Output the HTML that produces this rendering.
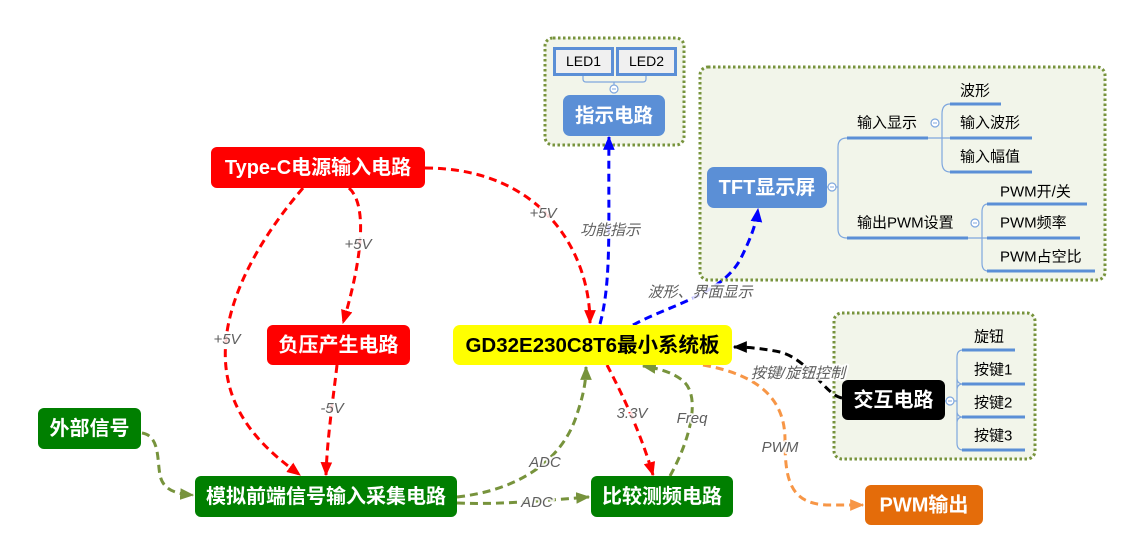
<!DOCTYPE html>
<html><head><meta charset="utf-8"><style>
html,body{margin:0;padding:0;background:#fff;}
svg{display:block;}
.nt{font-family:"Liberation Sans","Noto Sans CJK SC",sans-serif;font-weight:bold;font-size:20px;fill:#fff;}
.st{font-family:"Liberation Sans","Noto Sans CJK SC",sans-serif;font-size:15px;fill:#000;}
.ld{font-family:"Liberation Sans","Noto Sans CJK SC",sans-serif;font-size:14px;fill:#000;}
.lb{font-family:"Liberation Sans","Noto Sans CJK SC",sans-serif;font-size:15px;font-style:italic;fill:#5f5f5f;stroke:rgba(255,255,255,0.85);stroke-width:4px;paint-order:stroke;stroke-linejoin:round;}
.cn{fill:none;stroke-width:3;stroke-dasharray:8 5;}
.ul{stroke:#5b8fd6;stroke-width:3;fill:none;}
.tl{stroke:#7fa7de;stroke-width:1.2;fill:none;}
</style></head><body>
<svg width="1139" height="553" viewBox="0 0 1139 553" xmlns="http://www.w3.org/2000/svg">
<defs>
<marker id="aR" viewBox="0 0 12 10" refX="11" refY="5" markerWidth="14" markerHeight="12" markerUnits="userSpaceOnUse" orient="auto"><path d="M0,0 L12,5 L0,10 z" fill="#ff0000"/></marker>
<marker id="aB" viewBox="0 0 12 10" refX="11" refY="5" markerWidth="14" markerHeight="12" markerUnits="userSpaceOnUse" orient="auto"><path d="M0,0 L12,5 L0,10 z" fill="#0000ff"/></marker>
<marker id="aG" viewBox="0 0 12 10" refX="11" refY="5" markerWidth="14" markerHeight="12" markerUnits="userSpaceOnUse" orient="auto"><path d="M0,0 L12,5 L0,10 z" fill="#77933c"/></marker>
<marker id="aK" viewBox="0 0 12 10" refX="11" refY="5" markerWidth="14" markerHeight="12" markerUnits="userSpaceOnUse" orient="auto"><path d="M0,0 L12,5 L0,10 z" fill="#000"/></marker>
<marker id="aO" viewBox="0 0 12 10" refX="11" refY="5" markerWidth="14" markerHeight="12" markerUnits="userSpaceOnUse" orient="auto"><path d="M0,0 L12,5 L0,10 z" fill="#f79646"/></marker>
</defs>

<!-- group boxes -->
<rect x="545" y="38" width="139" height="107" rx="8" fill="#f2f5ea" stroke="#77933c" stroke-width="3" stroke-dasharray="2.5 2.5"/>
<rect x="700" y="67" width="405" height="213" rx="8" fill="#f2f5ea" stroke="#77933c" stroke-width="3" stroke-dasharray="2.5 2.5"/>
<rect x="834" y="313" width="201" height="146" rx="8" fill="#f2f5ea" stroke="#77933c" stroke-width="3" stroke-dasharray="2.5 2.5"/>

<!-- LED group -->
<rect x="554.5" y="48.5" width="58" height="26" fill="#f0f0f0" stroke="#5b8fd6" stroke-width="3"/>
<rect x="617.5" y="48.5" width="58" height="26" fill="#f0f0f0" stroke="#5b8fd6" stroke-width="3"/>
<text class="ld" x="583.5" y="66" text-anchor="middle">LED1</text>
<text class="ld" x="646.5" y="66" text-anchor="middle">LED2</text>
<path class="tl" d="M583,76 L583,79 Q583,82 586,82 L643,82 Q646,82 646,79 L646,76 M614,82 L614,85"/>
<circle cx="614" cy="89" r="4" fill="#fff" stroke="#7fa7de" stroke-width="1.2"/>
<line x1="612" y1="89" x2="616" y2="89" stroke="#7fa7de" stroke-width="1"/>
<rect x="563" y="95" width="102" height="41" rx="7" fill="#5b8fd6"/>
<text class="nt" x="614" y="116" text-anchor="middle" dominant-baseline="central" style="font-size:19.5px">指示电路</text>

<!-- TFT group -->
<rect x="707" y="167" width="120" height="41" rx="7" fill="#5b8fd6"/>
<text class="nt" x="767" y="188" text-anchor="middle" dominant-baseline="central">TFT显示屏</text>
<line x1="827" y1="187" x2="838" y2="187" class="tl"/>
<circle cx="832" cy="187" r="4" fill="#fff" stroke="#7fa7de" stroke-width="1.2"/>
<line x1="830" y1="187" x2="834" y2="187" stroke="#7fa7de" stroke-width="1"/>
<path class="tl" d="M847,138 Q838,138 838,147 L838,229 Q838,238 847,238"/>
<path class="ul" d="M847,138 L928,138"/>
<path class="ul" d="M847,238 L968,238"/>
<text class="st" x="857" y="123" dominant-baseline="central">输入显示</text>
<text class="st" x="857" y="223" dominant-baseline="central">输出PWM设置</text>
<line x1="928" y1="138" x2="950" y2="138" class="tl"/>
<circle cx="935" cy="123" r="4" fill="#fff" stroke="#7fa7de" stroke-width="1.2"/>
<line x1="933" y1="123" x2="937" y2="123" stroke="#7fa7de" stroke-width="1"/>
<path class="tl" d="M950,104 Q942,104 942,114 L942,162 Q942,172 950,172"/>
<path class="ul" d="M950,104 L1001,104 M950,138 L1032,138 M950,172 L1032,172"/>
<text class="st" x="960" y="91" dominant-baseline="central">波形</text>
<text class="st" x="960" y="123" dominant-baseline="central">输入波形</text>
<text class="st" x="960" y="157" dominant-baseline="central">输入幅值</text>
<line x1="968" y1="238" x2="987" y2="238" class="tl"/>
<circle cx="975" cy="223" r="4" fill="#fff" stroke="#7fa7de" stroke-width="1.2"/>
<line x1="973" y1="223" x2="977" y2="223" stroke="#7fa7de" stroke-width="1"/>
<path class="tl" d="M988,204 Q982,204 982,212 L982,263 Q982,271 988,271"/>
<path class="ul" d="M987,204 L1087,204 M987,238 L1080,238 M987,271 L1095,271"/>
<text class="st" x="1000" y="192" dominant-baseline="central">PWM开/关</text>
<text class="st" x="1000" y="223" dominant-baseline="central">PWM频率</text>
<text class="st" x="1000" y="257" dominant-baseline="central">PWM占空比</text>

<!-- Interaction group -->
<rect x="842" y="380" width="103" height="40" rx="6" fill="#000"/>
<text class="nt" x="893.5" y="400.5" text-anchor="middle" dominant-baseline="central">交互电路</text>
<line x1="945" y1="401" x2="957" y2="401" class="tl"/>
<circle cx="950" cy="401" r="4" fill="#fff" stroke="#7fa7de" stroke-width="1.2"/>
<line x1="948" y1="401" x2="952" y2="401" stroke="#7fa7de" stroke-width="1"/>
<path class="tl" d="M963,350 Q957,350 957,357 L957,443 Q957,450 963,450 M957,378 Q957,384 963,384 M957,411 Q957,417 963,417 M957,390 Q957,384 963,384 M957,423 Q957,417 963,417"/>
<path class="ul" d="M962,350 L1015,350 M962,384 L1025,384 M962,417 L1025,417 M962,450 L1025,450"/>
<text class="st" x="974" y="337" dominant-baseline="central">旋钮</text>
<text class="st" x="974" y="370" dominant-baseline="central">按键1</text>
<text class="st" x="974" y="403" dominant-baseline="central">按键2</text>
<text class="st" x="974" y="436" dominant-baseline="central">按键3</text>

<!-- connectors -->
<path class="cn" stroke="#ff0000" d="M425,168 C540,168 590,250 590,323" marker-end="url(#aR)"/>
<path class="cn" stroke="#ff0000" d="M349,188 C368,205 362,260 343,323" marker-end="url(#aR)"/>
<path class="cn" stroke="#ff0000" d="M303,188 C250,250 215,320 228,380 C238,430 280,460 300,475" marker-end="url(#aR)"/>
<path class="cn" stroke="#ff0000" d="M337,365 C333,400 327,440 326,475" marker-end="url(#aR)"/>
<path class="cn" stroke="#ff0000" d="M607,365 C620,390 640,430 653,475" marker-end="url(#aR)"/>
<path class="cn" stroke="#77933c" d="M142,433 C160,436 157,460 160,475 C163,492 180,494 193,495" marker-end="url(#aG)"/>
<path class="cn" stroke="#77933c" d="M457,497 C520,490 560,460 575,420 C582,400 586,385 586,367" marker-end="url(#aG)"/>
<path class="cn" stroke="#77933c" d="M457,503 C500,505 550,500 589,497" marker-end="url(#aG)"/>
<path class="cn" stroke="#77933c" d="M670,476 C690,440 702,395 682,380 C670,371 656,368 643,366" marker-end="url(#aG)"/>
<path class="cn" stroke="#0000ff" d="M600,324 C612,280 608,220 609,137" marker-end="url(#aB)"/>
<path class="cn" stroke="#0000ff" d="M633,325 C670,305 720,295 740,260 C750,240 756,225 758,209" marker-end="url(#aB)"/>
<path class="cn" stroke="#000" d="M842,398 C825,395 810,360 780,352 C760,348 745,347 734,347" marker-end="url(#aK)"/>
<path class="cn" stroke="#f79646" d="M703,365 C760,375 785,400 785,440 C785,480 790,505 830,505 L863,505" marker-end="url(#aO)"/>

<!-- labels -->
<text class="lb" x="543" y="218" text-anchor="middle">+5V</text>
<text class="lb" x="358" y="249" text-anchor="middle">+5V</text>
<text class="lb" x="227" y="344" text-anchor="middle">+5V</text>
<text class="lb" x="332" y="413" text-anchor="middle">-5V</text>
<text class="lb" x="610" y="235" text-anchor="middle">功能指示</text>
<text class="lb" x="700" y="297" text-anchor="middle">波形、界面显示</text>
<text class="lb" x="798" y="378" text-anchor="middle">按键/旋钮控制</text>
<text class="lb" x="632" y="418" text-anchor="middle">3.3V</text>
<text class="lb" x="692" y="423" text-anchor="middle">Freq</text>
<text class="lb" x="545" y="467" text-anchor="middle">ADC</text>
<text class="lb" x="537" y="507" text-anchor="middle">ADC</text>
<text class="lb" x="780" y="452" text-anchor="middle">PWM</text>

<!-- main nodes -->
<rect x="211" y="147" width="214" height="41" rx="6" fill="#ff0000"/>
<text class="nt" x="318" y="168" text-anchor="middle" dominant-baseline="central">Type-C电源输入电路</text>
<rect x="267" y="325" width="143" height="40" rx="6" fill="#ff0000"/>
<text class="nt" x="338.5" y="345.5" text-anchor="middle" dominant-baseline="central">负压产生电路</text>
<rect x="453" y="325" width="279" height="40" rx="7" fill="#ffff00"/>
<text class="nt" x="592.5" y="345.5" text-anchor="middle" dominant-baseline="central" style="fill:#000;font-size:20.5px">GD32E230C8T6最小系统板</text>
<rect x="38" y="408" width="103" height="41" rx="6" fill="#007f00"/>
<text class="nt" x="89.5" y="429" text-anchor="middle" dominant-baseline="central">外部信号</text>
<rect x="195" y="476" width="262" height="41" rx="6" fill="#007f00"/>
<text class="nt" x="326" y="497" text-anchor="middle" dominant-baseline="central">模拟前端信号输入采集电路</text>
<rect x="591" y="476" width="142" height="41" rx="6" fill="#007f00"/>
<text class="nt" x="662" y="497" text-anchor="middle" dominant-baseline="central">比较测频电路</text>
<rect x="865" y="485" width="118" height="40" rx="6" fill="#e46c0a"/>
<text class="nt" x="924" y="505.5" text-anchor="middle" dominant-baseline="central">PWM输出</text>
</svg>
</body></html>
